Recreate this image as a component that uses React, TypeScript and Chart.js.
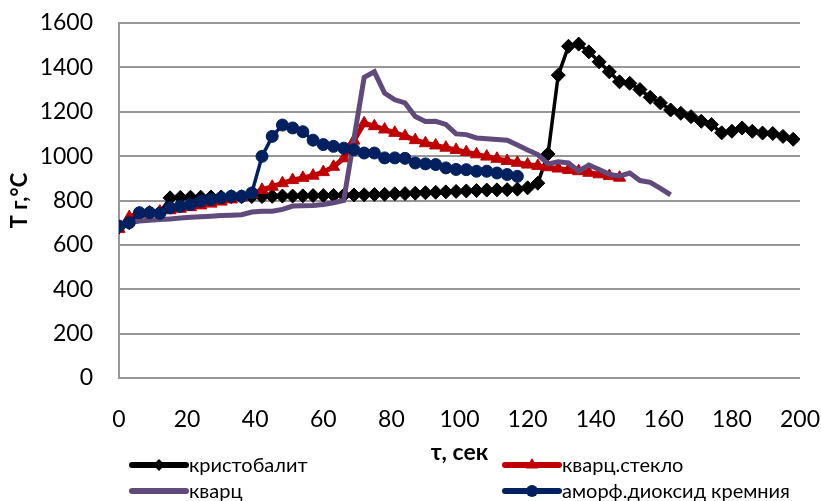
import React, { useEffect, useRef } from 'react';
import { Chart, registerables } from 'chart.js';
Chart.register(...registerables);

// ---- data ----
const xTicks = [0, 20, 40, 60, 80, 100, 120, 140, 160, 180, 200];
const yTicks = [0, 200, 400, 600, 800, 1000, 1200, 1400, 1600];

const seriesNames = ['кристобалит', 'кварц.стекло', 'кварц', 'аморф.диоксид кремния'];

const cristobaliteT = [0, 3, 6, 9, 12, 15, 18, 21, 24, 27, 30, 33, 36, 39, 42, 45, 48, 51, 54, 57, 60, 63, 66, 69, 72, 75, 78, 81, 84, 87, 90, 93, 96, 99, 102, 105, 108, 111, 114, 117, 120, 123, 126, 129, 132, 135, 138, 141, 144, 147, 150, 153, 156, 159, 162, 165, 168, 171, 174, 177, 180, 183, 186, 189, 192, 195, 198];
const cristobaliteV = [680, 700, 740, 745, 745, 812, 814, 815, 815, 816, 816, 817, 817, 818, 818, 819, 820, 820, 821, 822, 822, 823, 824, 825, 826, 827, 828, 830, 831, 833, 835, 837, 839, 841, 843, 845, 847, 848, 849, 851, 857, 878, 1010, 1365, 1495, 1505, 1470, 1425, 1380, 1335, 1328, 1300, 1265, 1240, 1208, 1193, 1178, 1157, 1142, 1105, 1112, 1127, 1112, 1104, 1102, 1089, 1076];

const quartzGlassT = [0, 3, 6, 9, 12, 15, 18, 21, 24, 27, 30, 33, 36, 39, 42, 45, 48, 51, 54, 57, 60, 63, 66, 69, 72, 75, 78, 81, 84, 87, 90, 93, 96, 99, 102, 105, 108, 111, 114, 117, 120, 123, 126, 129, 132, 135, 138, 141, 144, 147];
const quartzGlassV = [672, 725, 740, 745, 750, 756, 763, 770, 778, 786, 795, 805, 815, 828, 848, 862, 878, 892, 902, 912, 928, 952, 990, 1070, 1148, 1135, 1120, 1105, 1090, 1072, 1058, 1048, 1038, 1028, 1018, 1008, 998, 988, 978, 970, 962, 956, 950, 944, 938, 932, 925, 918, 910, 903];

const quartzT = [0, 3, 6, 9, 12, 15, 18, 21, 24, 27, 30, 33, 36, 39, 42, 45, 48, 51, 54, 57, 60, 63, 66, 72, 75, 78, 81, 84, 87, 90, 93, 96, 99, 102, 105, 108, 111, 114, 117, 120, 123, 126, 129, 132, 135, 138, 141, 144, 147, 150, 153, 156, 159, 162];
const quartzV = [680, 700, 708, 711, 714, 717, 721, 724, 727, 729, 732, 734, 736, 748, 751, 752, 760, 775, 776, 777, 782, 790, 800, 1355, 1380, 1284, 1254, 1240, 1179, 1156, 1157, 1143, 1100, 1097, 1082, 1078, 1075, 1072, 1050, 1028, 1007, 965, 975, 969, 932, 960, 940, 918, 910, 924, 890, 882, 855, 825];

const amorphT = [0, 3, 6, 9, 12, 15, 18, 21, 24, 27, 30, 33, 36, 39, 42, 45, 48, 51, 54, 57, 60, 63, 66, 69, 72, 75, 78, 81, 84, 87, 90, 93, 96, 99, 102, 105, 108, 111, 114, 117];
const amorphV = [685, 700, 745, 745, 742, 767, 774, 782, 797, 804, 812, 819, 819, 834, 999, 1089, 1140, 1127, 1110, 1072, 1052, 1044, 1036, 1029, 1014, 1014, 992, 992, 990, 969, 965, 962, 947, 940, 939, 932, 932, 924, 917, 909];

const colors = ['#000000', '#C00000', '#604A7B', '#002060'];

const toXY = (t: number[], v: number[]) => t.map((x, i) => ({ x, y: v[i] }));

const FONT = 'Lato, "Noto Sans", sans-serif';

const legendPlugin = {
  id: 'customLegend',
  afterDraw(chart: any) {
    const ctx = chart.ctx as CanvasRenderingContext2D;
    const items = [
      { i: 0, x: 130, y: 465, marker: 'diamond' },
      { i: 1, x: 503, y: 465, marker: 'triangle' },
      { i: 2, x: 130, y: 491, marker: 'none' },
      { i: 3, x: 503, y: 491, marker: 'circle' },
    ];
    ctx.save();
    for (const it of items) {
      const c = colors[it.i];
      const len = 56;
      ctx.strokeStyle = c;
      ctx.fillStyle = c;
      ctx.lineWidth = 6;
      ctx.lineCap = 'round';
      ctx.beginPath();
      ctx.moveTo(it.x + 2, it.y);
      ctx.lineTo(it.x + len, it.y);
      ctx.stroke();
      const cx = it.x + len / 2 + 1;
      const cy = it.y;
      ctx.beginPath();
      if (it.marker === 'diamond') {
        const r = 6;
        ctx.moveTo(cx, cy - r);
        ctx.lineTo(cx + r, cy);
        ctx.lineTo(cx, cy + r);
        ctx.lineTo(cx - r, cy);
        ctx.closePath();
        ctx.fill();
      } else if (it.marker === 'triangle') {
        const r = 7;
        ctx.moveTo(cx, cy - r);
        ctx.lineTo(cx + r * 0.87, cy + r * 0.5);
        ctx.lineTo(cx - r * 0.87, cy + r * 0.5);
        ctx.closePath();
        ctx.fill();
      } else if (it.marker === 'circle') {
        ctx.arc(cx, cy, 6, 0, Math.PI * 2);
        ctx.fill();
      }
      ctx.fillStyle = '#000000';
      ctx.font = '20px ' + FONT;
      ctx.textAlign = 'left';
      ctx.textBaseline = 'middle';
      ctx.fillText(seriesNames[it.i], it.x + len + 3, it.y + 1);
    }
    ctx.restore();
  },
};

export default function App() {
  const ref = useRef<HTMLCanvasElement | null>(null);
  useEffect(() => {
    if (!ref.current) return;
    const chart = new Chart(ref.current, {
      type: 'line',
      data: {
        datasets: [
          {
            label: seriesNames[0],
            data: toXY(cristobaliteT, cristobaliteV),
            borderColor: colors[0],
            backgroundColor: colors[0],
            borderWidth: 3.5,
            pointStyle: 'rectRot',
            pointRadius: 7,
            pointBorderWidth: 1,
            order: 4,
          },
          {
            label: seriesNames[1],
            data: toXY(quartzGlassT, quartzGlassV),
            borderColor: colors[1],
            backgroundColor: colors[1],
            borderWidth: 5,
            pointStyle: 'triangle',
            pointRadius: 7,
            pointBorderWidth: 1,
            order: 3,
          },
          {
            label: seriesNames[2],
            data: toXY(quartzT, quartzV),
            borderColor: colors[2],
            backgroundColor: colors[2],
            borderWidth: 5,
            pointRadius: 0,
            order: 2,
          },
          {
            label: seriesNames[3],
            data: toXY(amorphT, amorphV),
            borderColor: colors[3],
            backgroundColor: colors[3],
            borderWidth: 3.5,
            pointStyle: 'circle',
            pointRadius: 6,
            pointBorderWidth: 1,
            order: 1,
          },
        ],
      },
      options: {
        animation: false,
        responsive: false,
        devicePixelRatio: 1,
        layout: { padding: { left: 0, top: 23, right: 21, bottom: 35 } },
        plugins: { legend: { display: false }, tooltip: { enabled: false } },
        elements: { line: { tension: 0 } },
        scales: {
          x: {
            type: 'linear',
            min: 0,
            max: 200,
            afterBuildTicks: (s: any) => { s.ticks = xTicks.map((v) => ({ value: v })); },
            grid: { display: false, drawTicks: false },
            border: { display: false },
            ticks: { font: { family: FONT, size: 23 }, color: '#000', padding: 28, maxRotation: 0, callback: (v: any) => String(v) },
            title: { display: true, text: 'τ, сек', font: { family: FONT, size: 23, weight: 'bold' }, color: '#000', padding: 0 },
            afterFit: (s: any) => { s.height = 88; s.paddingLeft = 0; s.paddingRight = 0; },
          },
          y: {
            type: 'linear',
            min: 0,
            max: 1600,
            afterBuildTicks: (s: any) => { s.ticks = yTicks.map((v) => ({ value: v })); },
            grid: { color: '#979797', lineWidth: 2, drawTicks: false },
            border: { display: true, color: '#979797', width: 2 },
            ticks: { font: { family: FONT, size: 23 }, color: '#000', padding: 26, callback: (v: any) => String(v) },
            title: { display: true, text: 'T г,°C', font: { family: FONT, size: 22, weight: 'bold' }, color: '#000', padding: { top: 7, bottom: 0 } },
            afterFit: (s: any) => { s.width = 119; s.paddingTop = 0; s.paddingBottom = 0; },
          },
        },
      },
      plugins: [legendPlugin],
    } as any);
    return () => chart.destroy();
  }, []);
  return (
    <div style={{ position: 'fixed', left: 0, top: 0, width: 821, height: 501, background: '#fff' }}>
      <canvas ref={ref} width={821} height={501} style={{ display: 'block' }} />
    </div>
  );
}
